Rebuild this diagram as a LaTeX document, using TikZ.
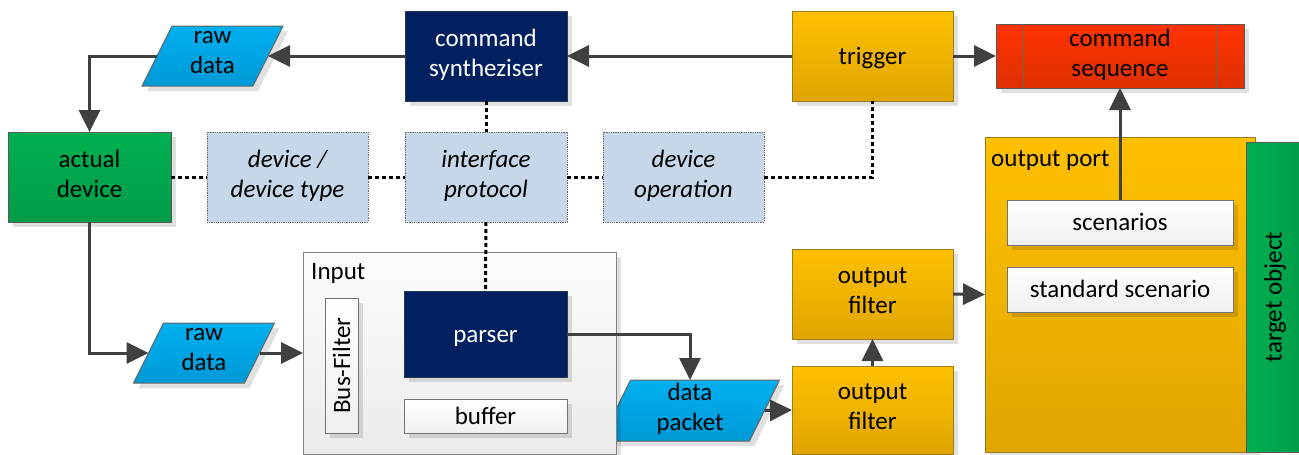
\documentclass[tikz,border=0pt]{standalone}
\usepackage{fontspec}
\setmainfont{Carlito}
\usetikzlibrary{arrows.meta,shadows}
\pgfdeclarelayer{background}
\pgfsetlayers{background,main}
\definecolor{navy}{HTML}{002060}
\definecolor{navyline}{HTML}{2A3550}
\definecolor{gold1}{HTML}{FFC000}
\definecolor{gold2}{HTML}{E0A600}
\definecolor{goldline}{HTML}{9C7A1E}
\definecolor{green1}{HTML}{00B050}
\definecolor{green2}{HTML}{009C48}
\definecolor{blue1}{HTML}{00B0F0}
\definecolor{blue2}{HTML}{0099D6}
\definecolor{lightblue}{HTML}{C5D7E9}
\definecolor{red1}{HTML}{FF3300}
\definecolor{red2}{HTML}{DE3000}
\definecolor{arrowgray}{HTML}{404040}
\begin{document}
\begin{tikzpicture}[x=1pt,y=-1pt,
  font=\fontsize{25}{30}\selectfont,
  txt/.style={execute at begin node={\rule{0pt}{23pt}}, execute at end node={\rule[-7pt]{0pt}{7pt}}},
  shad/.style={general shadow={fill=black, opacity=0.12, shadow xshift=5pt, shadow yshift=-5pt}},
  base/.style={rectangle, inner sep=0pt, outer sep=0pt, align=center, line width=1pt, shad},
  navybox/.style={base, txt, draw=navyline, fill=navy, text=white},
  goldbox/.style={base, txt, draw=goldline, top color=gold1, bottom color=gold2},
  greenbox/.style={base, txt, draw=black!65, top color=green1, bottom color=green2},
  redbox/.style={base, txt, draw=black!65, top color=red1, bottom color=red2},
  whitebox/.style={base, draw=black!55, top color=white, bottom color=black!6},
  infobox/.style={rectangle, txt, inner sep=0pt, outer sep=0pt, align=center, draw=black!60,
    densely dotted, line width=0.8pt, fill=lightblue, font=\fontsize{25}{30}\selectfont\itshape},
  paratext/.style={rectangle, txt, inner sep=0pt, outer sep=0pt, align=center},
  parafill/.style={draw=black!60, line width=1pt, top color=blue1, bottom color=blue2, shad},
  lbl/.style={anchor=base west, inner sep=0pt},
  arr/.style={draw=arrowgray, line width=3pt, -{Triangle[length=22pt,width=21pt]}},
  dots/.style={draw=black, line width=3pt, dash pattern=on 4pt off 3pt}
]
\useasboundingbox (0,0) rectangle (1299,455);

% top row
\node[navybox, minimum width=162pt, minimum height=90pt] (cmd) at (486,56) {command\\syntheziser};
\node[goldbox, minimum width=161pt, minimum height=90pt] (trig) at (872.5,56) {trigger};
\node[redbox, minimum width=248pt, minimum height=64pt] (cseq) at (1120,56) {command\\sequence};
\draw[draw=black!60, line width=1pt] ([xshift=27pt]cseq.north west) -- ([xshift=27pt]cseq.south west);
\draw[draw=black!60, line width=1pt] ([xshift=-27pt]cseq.north east) -- ([xshift=-27pt]cseq.south east);
\node[paratext, minimum width=111pt, minimum height=60pt] (raw1) at (212.5,56) {raw\\data};

% middle row
\node[greenbox, minimum width=163pt, minimum height=90pt] (dev) at (89.5,177) {actual\\device};
\node[infobox, minimum width=161pt, minimum height=90pt] (dt) at (287.5,177) {device /\\device type};
\node[infobox, minimum width=162pt, minimum height=90pt] (ip) at (486,177) {interface\\protocol};
\node[infobox, minimum width=161pt, minimum height=90pt] (dop) at (683.5,177) {device\\operation};

% input block
\node[base, draw=black!50, top color=black!1, bottom color=black!8, minimum width=313pt, minimum height=202pt] (input) at (459.5,353) {};
\node[lbl] (inputlbl) at (311,279) {Input};
\node[whitebox, minimum width=33pt, minimum height=135pt] (busf) at (341.5,365.5) {\rotatebox{90}{Bus-Filter}};
\node[navybox, minimum width=163pt, minimum height=86pt] (parser) at (485.5,334) {parser};
\node[whitebox, txt, minimum width=163pt, minimum height=34pt] (buffer) at (485.5,416) {buffer};

\node[paratext, minimum width=111pt, minimum height=60pt] (raw2) at (204,353) {raw\\data};
\node[paratext, minimum width=149pt, minimum height=61pt] (datap) at (690,410.5) {data\\packet};

% filters
\node[goldbox, minimum width=161pt, minimum height=90pt] (filt1) at (872.5,294) {output\\filter};
\node[goldbox, minimum width=161pt, minimum height=88pt] (filt2) at (872.5,410) {output\\filter};

% output port and target
\node[base, draw=goldline, top color=gold1, bottom color=gold2, minimum width=270pt, minimum height=315pt] (port) at (1120,294.5) {};
\node[lbl] (portlbl) at (991,166) {output port};
\node[whitebox, txt, minimum width=226pt, minimum height=45pt] (scen) at (1120,222.5) {scenarios};
\node[whitebox, txt, minimum width=226pt, minimum height=45pt] (std) at (1120,289.5) {standard scenario};
\node[rectangle, inner sep=0pt, outer sep=0pt, draw=black!65, line width=1pt, left color=green1, right color=green2,
  minimum width=58pt, minimum height=310pt] (target) at (1275,297) {\rotatebox{90}{target object}};

% parallelogram bodies
\begin{pgfonlayer}{background}
\foreach \p in {raw1,raw2,datap}{
  \draw[parafill] ([xshift=15pt]\p.north west) -- ([xshift=15pt]\p.north east)
    -- ([xshift=-15pt]\p.south east) -- ([xshift=-15pt]\p.south west) -- cycle;
}
\end{pgfonlayer}

% arrows
\draw[arr] (cmd.west) -- (raw1.east);
\draw[arr] (raw1.west) -| (dev.north);
\draw[arr] (dev.south) |- (raw2.west);
\draw[arr] (raw2.east) -- (input.west);
\draw[arr] (parser.east) -| (datap.north);
\draw[arr] (datap.east) -- (filt2.west);
\draw[arr] (filt2.north) -- (filt1.south);
\draw[arr] (filt1.east) -- (port.west);
\draw[arr] (scen.north) -- (cseq.south);
\draw[arr] (trig.west) -- (cmd.east);
\draw[arr] (trig.east) -- (cseq.west);

% dotted relations
\draw[dots] (dev.east) -- (dt.west);
\draw[dots] (dt.east) -- (ip.west);
\draw[dots] (ip.east) -- (dop.west);
\draw[dots] (dop.east) -| (trig.south);
\draw[dots] (cmd.south) -- (ip.north);
\draw[dots] (ip.south) -- (parser.north);
\end{tikzpicture}
\end{document}
